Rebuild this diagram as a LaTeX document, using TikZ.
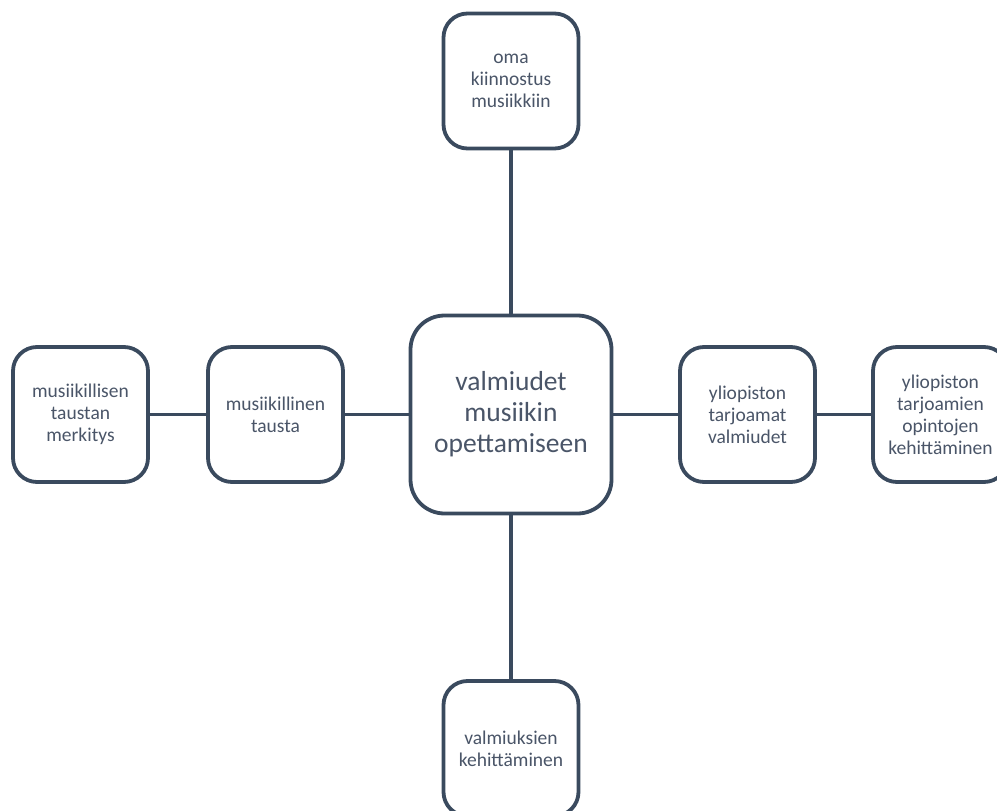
\documentclass[tikz,border=0pt]{standalone}
\usepackage{fontspec}
\setmainfont{Carlito}
\definecolor{edgecol}{HTML}{3A4A5E}
\definecolor{txtcol}{HTML}{4A5568}
\begin{document}
\begin{tikzpicture}[x=1pt,y=-1pt,
  box/.style={draw=edgecol,line width=3.8pt,rounded corners=24pt,fill=white,
    minimum width=135pt,minimum height=135pt,align=center,text=txtcol,
    font=\fontsize{19.5}{22}\selectfont,inner sep=0pt},
  bigbox/.style={box,minimum width=201pt,minimum height=198pt,rounded corners=34pt,
    font=\fontsize{27.5}{31}\selectfont},
  conn/.style={draw=edgecol,line width=3.8pt}]
\useasboundingbox (0,0) rectangle (997,811);
\clip (0,0) rectangle (997,811);
\node[bigbox] (c) at (511,414.5) {valmiudet\\musiikin\\opettamiseen};
\node[box] (t) at (511,81) {oma\\kiinnostus\\musiikkiin};
\node[box] (b) at (511,748.5) {valmiuksien\\kehittäminen};
\node[box] (l) at (275.5,414.5) {musiikillinen\\tausta};
\node[box] (ll) at (80.5,414.5) {musiikillisen\\taustan\\merkitys};
\node[box] (r) at (747.5,414.5) {yliopiston\\tarjoamat\\valmiudet};
\node[box] (rr) at (940.5,414.5) {yliopiston\\tarjoamien\\opintojen\\kehittäminen};
\draw[conn] (t) -- (c);
\draw[conn] (c) -- (b);
\draw[conn] (ll) -- (l);
\draw[conn] (l) -- (c);
\draw[conn] (c) -- (r);
\draw[conn] (r) -- (rr);
\end{tikzpicture}
\end{document}
